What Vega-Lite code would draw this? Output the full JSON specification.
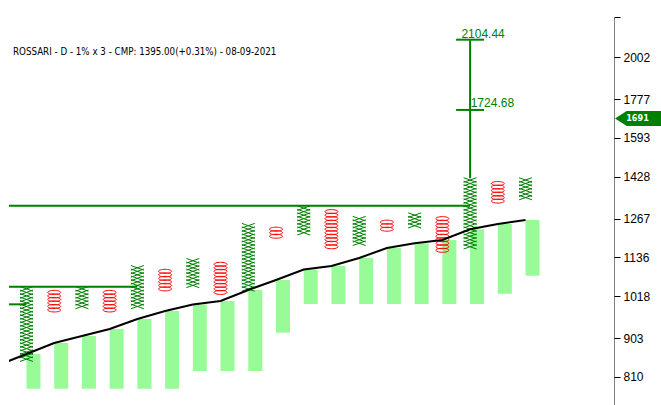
{
  "$schema": "https://vega.github.io/schema/vega-lite/v6.json",
  "width": 605,
  "height": 388,
  "autosize": {"type": "none"},
  "padding": {"left": 9, "top": 17, "right": 47, "bottom": 0},
  "background": "white",
  "view": {"stroke": null},
  "title": {
    "text": "ROSSARI - D - 1% x 3 - CMP: 1395.00(+0.31%) - 08-09-2021",
    "anchor": "start",
    "frame": "group",
    "orient": "top",
    "offset": -53.5,
    "baseline": "alphabetic",
    "dx": 4,
    "font": "'DejaVu Sans Condensed', 'Liberation Sans', sans-serif",
    "fontSize": 9.7,
    "fontWeight": "normal",
    "color": "#000000"
  },
  "datasets": {
    "bands": [
      {"col": 0, "price": 837.3, "low": null},
      {"col": 1, "price": 863.8, "low": 782.9},
      {"col": 2, "price": 891.2, "low": 782.9},
      {"col": 3, "price": 909.0, "low": 782.9},
      {"col": 4, "price": 927.2, "low": 782.9},
      {"col": 5, "price": 953.9, "low": 782.9},
      {"col": 6, "price": 975.7, "low": 782.9},
      {"col": 7, "price": 993.9, "low": 823.2},
      {"col": 8, "price": 1003.7, "low": 823.2},
      {"col": 9, "price": 1035.6, "low": 823.2},
      {"col": 10, "price": 1065.3, "low": 917.6},
      {"col": 11, "price": 1097.4, "low": 995.3},
      {"col": 12, "price": 1108.4, "low": 995.3},
      {"col": 13, "price": 1133.8, "low": 995.3},
      {"col": 14, "price": 1166.4, "low": 995.3},
      {"col": 15, "price": 1182.0, "low": 995.3},
      {"col": 16, "price": 1193.1, "low": 995.3},
      {"col": 17, "price": 1229.9, "low": 995.3},
      {"col": 18, "price": 1248.5, "low": 1024.7},
      {"col": 19, "price": 1262.7, "low": 1078.4}
    ],
    "boxes": [
      {"col":1,"price":851.32,"kind":"X"},{"col":1,"price":859.83,"kind":"X"},{"col":1,"price":868.43,"kind":"X"},{"col":1,"price":877.11,"kind":"X"},{"col":1,"price":885.88,"kind":"X"},{"col":1,"price":894.74,"kind":"X"},{"col":1,"price":903.69,"kind":"X"},{"col":1,"price":912.73,"kind":"X"},{"col":1,"price":921.86,"kind":"X"},{"col":1,"price":931.07,"kind":"X"},{"col":1,"price":940.38,"kind":"X"},{"col":1,"price":949.79,"kind":"X"},{"col":1,"price":959.29,"kind":"X"},{"col":1,"price":968.88,"kind":"X"},{"col":1,"price":978.57,"kind":"X"},{"col":1,"price":988.35,"kind":"X"},{"col":1,"price":998.24,"kind":"X"},{"col":1,"price":1008.22,"kind":"X"},{"col":1,"price":1018.30,"kind":"X"},{"col":1,"price":1028.49,"kind":"X"},{"col":1,"price":1038.77,"kind":"X"},
      {"col":2,"price":978.57,"kind":"O"},{"col":2,"price":988.35,"kind":"O"},{"col":2,"price":998.24,"kind":"O"},{"col":2,"price":1008.22,"kind":"O"},{"col":2,"price":1018.30,"kind":"O"},{"col":2,"price":1028.49,"kind":"O"},
      {"col":3,"price":988.35,"kind":"X"},{"col":3,"price":998.24,"kind":"X"},{"col":3,"price":1008.22,"kind":"X"},{"col":3,"price":1018.30,"kind":"X"},{"col":3,"price":1028.49,"kind":"X"},{"col":3,"price":1038.77,"kind":"X"},
      {"col":4,"price":978.57,"kind":"O"},{"col":4,"price":988.35,"kind":"O"},{"col":4,"price":998.24,"kind":"O"},{"col":4,"price":1008.22,"kind":"O"},{"col":4,"price":1018.30,"kind":"O"},{"col":4,"price":1028.49,"kind":"O"},
      {"col":5,"price":988.35,"kind":"X"},{"col":5,"price":998.24,"kind":"X"},{"col":5,"price":1008.22,"kind":"X"},{"col":5,"price":1018.30,"kind":"X"},{"col":5,"price":1028.49,"kind":"X"},{"col":5,"price":1038.77,"kind":"X"},{"col":5,"price":1049.16,"kind":"X"},{"col":5,"price":1059.65,"kind":"X"},{"col":5,"price":1070.25,"kind":"X"},{"col":5,"price":1080.95,"kind":"X"},{"col":5,"price":1091.76,"kind":"X"},{"col":5,"price":1102.67,"kind":"X"},
      {"col":6,"price":1038.77,"kind":"O"},{"col":6,"price":1049.16,"kind":"O"},{"col":6,"price":1059.65,"kind":"O"},{"col":6,"price":1070.25,"kind":"O"},{"col":6,"price":1080.95,"kind":"O"},{"col":6,"price":1091.76,"kind":"O"},
      {"col":7,"price":1049.16,"kind":"X"},{"col":7,"price":1059.65,"kind":"X"},{"col":7,"price":1070.25,"kind":"X"},{"col":7,"price":1080.95,"kind":"X"},{"col":7,"price":1091.76,"kind":"X"},{"col":7,"price":1102.67,"kind":"X"},{"col":7,"price":1113.70,"kind":"X"},{"col":7,"price":1124.84,"kind":"X"},
      {"col":8,"price":1028.49,"kind":"O"},{"col":8,"price":1038.77,"kind":"O"},{"col":8,"price":1049.16,"kind":"O"},{"col":8,"price":1059.65,"kind":"O"},{"col":8,"price":1070.25,"kind":"O"},{"col":8,"price":1080.95,"kind":"O"},{"col":8,"price":1091.76,"kind":"O"},{"col":8,"price":1102.67,"kind":"O"},{"col":8,"price":1113.70,"kind":"O"},
      {"col":9,"price":1038.77,"kind":"X"},{"col":9,"price":1049.16,"kind":"X"},{"col":9,"price":1059.65,"kind":"X"},{"col":9,"price":1070.25,"kind":"X"},{"col":9,"price":1080.95,"kind":"X"},{"col":9,"price":1091.76,"kind":"X"},{"col":9,"price":1102.67,"kind":"X"},{"col":9,"price":1113.70,"kind":"X"},{"col":9,"price":1124.84,"kind":"X"},{"col":9,"price":1136.09,"kind":"X"},{"col":9,"price":1147.45,"kind":"X"},{"col":9,"price":1158.92,"kind":"X"},{"col":9,"price":1170.51,"kind":"X"},{"col":9,"price":1182.22,"kind":"X"},{"col":9,"price":1194.04,"kind":"X"},{"col":9,"price":1205.98,"kind":"X"},{"col":9,"price":1218.04,"kind":"X"},{"col":9,"price":1230.22,"kind":"X"},{"col":9,"price":1242.52,"kind":"X"},
      {"col":10,"price":1205.98,"kind":"O"},{"col":10,"price":1218.04,"kind":"O"},{"col":10,"price":1230.22,"kind":"O"},
      {"col":11,"price":1218.04,"kind":"X"},{"col":11,"price":1230.22,"kind":"X"},{"col":11,"price":1242.52,"kind":"X"},{"col":11,"price":1254.95,"kind":"X"},{"col":11,"price":1267.50,"kind":"X"},{"col":11,"price":1280.17,"kind":"X"},{"col":11,"price":1292.97,"kind":"X"},{"col":11,"price":1305.90,"kind":"X"},
      {"col":12,"price":1170.51,"kind":"O"},{"col":12,"price":1182.22,"kind":"O"},{"col":12,"price":1194.04,"kind":"O"},{"col":12,"price":1205.98,"kind":"O"},{"col":12,"price":1218.04,"kind":"O"},{"col":12,"price":1230.22,"kind":"O"},{"col":12,"price":1242.52,"kind":"O"},{"col":12,"price":1254.95,"kind":"O"},{"col":12,"price":1267.50,"kind":"O"},{"col":12,"price":1280.17,"kind":"O"},{"col":12,"price":1292.97,"kind":"O"},
      {"col":13,"price":1182.22,"kind":"X"},{"col":13,"price":1194.04,"kind":"X"},{"col":13,"price":1205.98,"kind":"X"},{"col":13,"price":1218.04,"kind":"X"},{"col":13,"price":1230.22,"kind":"X"},{"col":13,"price":1242.52,"kind":"X"},{"col":13,"price":1254.95,"kind":"X"},{"col":13,"price":1267.50,"kind":"X"},
      {"col":14,"price":1230.22,"kind":"O"},{"col":14,"price":1242.52,"kind":"O"},{"col":14,"price":1254.95,"kind":"O"},
      {"col":15,"price":1242.52,"kind":"X"},{"col":15,"price":1254.95,"kind":"X"},{"col":15,"price":1267.50,"kind":"X"},{"col":15,"price":1280.17,"kind":"X"},
      {"col":16,"price":1158.92,"kind":"O"},{"col":16,"price":1170.51,"kind":"O"},{"col":16,"price":1182.22,"kind":"O"},{"col":16,"price":1194.04,"kind":"O"},{"col":16,"price":1205.98,"kind":"O"},{"col":16,"price":1218.04,"kind":"O"},{"col":16,"price":1230.22,"kind":"O"},{"col":16,"price":1242.52,"kind":"O"},{"col":16,"price":1254.95,"kind":"O"},{"col":16,"price":1267.50,"kind":"O"},
      {"col":17,"price":1170.51,"kind":"X"},{"col":17,"price":1182.22,"kind":"X"},{"col":17,"price":1194.04,"kind":"X"},{"col":17,"price":1205.98,"kind":"X"},{"col":17,"price":1218.04,"kind":"X"},{"col":17,"price":1230.22,"kind":"X"},{"col":17,"price":1242.52,"kind":"X"},{"col":17,"price":1254.95,"kind":"X"},{"col":17,"price":1267.50,"kind":"X"},{"col":17,"price":1280.17,"kind":"X"},{"col":17,"price":1292.97,"kind":"X"},{"col":17,"price":1305.90,"kind":"X"},{"col":17,"price":1318.96,"kind":"X"},{"col":17,"price":1332.15,"kind":"X"},{"col":17,"price":1345.47,"kind":"X"},{"col":17,"price":1358.93,"kind":"X"},{"col":17,"price":1372.52,"kind":"X"},{"col":17,"price":1386.24,"kind":"X"},{"col":17,"price":1400.11,"kind":"X"},{"col":17,"price":1414.11,"kind":"X"},
      {"col":18,"price":1332.15,"kind":"O"},{"col":18,"price":1345.47,"kind":"O"},{"col":18,"price":1358.93,"kind":"O"},{"col":18,"price":1372.52,"kind":"O"},{"col":18,"price":1386.24,"kind":"O"},{"col":18,"price":1400.11,"kind":"O"},
      {"col":19,"price":1345.47,"kind":"X"},{"col":19,"price":1358.93,"kind":"X"},{"col":19,"price":1372.52,"kind":"X"},{"col":19,"price":1386.24,"kind":"X"},{"col":19,"price":1400.11,"kind":"X"},{"col":19,"price":1414.11,"kind":"X"}
    ],
    "resist": [
      {"col": 0, "col2": 17, "price": 1315.0},
      {"col": 0, "col2": 5, "price": 1045.0},
      {"col": 0, "col2": 1, "price": 994.3}
    ],
    "targets": [
      {"col": 17, "price": 2104.44, "label": "2104.44", "base": 1421.2},
      {"col": 17, "price": 1724.68, "label": "1724.68", "base": 1421.2}
    ],
    "last": [{"price": 1691, "label": "1691"}]
  },
  "encoding": {
    "x": {"field": "col", "type": "quantitative", "scale": {"domain": [0.55, 22.01], "nice": false, "zero": false}, "axis": null},
    "y": {
      "field": "price", "type": "quantitative",
      "scale": {"type": "log", "domain": [747.6, 2244.1], "nice": false, "zero": false},
      "axis": {
        "orient": "right", "title": null,
        "values": [810, 903, 1018, 1136, 1267, 1428, 1593, 1777, 2002, 2244.1],
        "format": "d",
        "labelExpr": "datum.value > 2200 ? '' : datum.label",
        "grid": false,
        "domainColor": "#000000", "domainDash": [1, 1], "domainWidth": 1,
        "tickColor": "#000000", "tickSize": 6, "tickWidth": 1,
        "labelFont": "Liberation Sans", "labelFontSize": 12, "labelColor": "#000000",
        "labelPadding": 3, "labelOverlap": false, "labelBound": false, "labelFlush": false
      }
    }
  },
  "layer": [
    {
      "data": {"name": "bands"},
      "transform": [{"filter": "datum.low != null"}],
      "mark": {"type": "bar", "width": 14, "xOffset": 7, "color": "#98FB98"},
      "encoding": {"y2": {"field": "low"}}
    },
    {
      "data": {"name": "boxes"},
      "mark": {"type": "point", "size": 4, "filled": false, "opacity": 1, "strokeWidth": 1},
      "encoding": {
        "shape": {"field": "kind", "type": "nominal", "legend": null,
          "scale": {"domain": ["X", "O"], "range": ["M-6.5,-2.3L6.5,2.3M-6.5,2.3L6.5,-2.3", "M-6.5,0A6.5,2 0 1,0 6.5,0A6.5,2 0 1,0 -6.5,0Z"]}},
        "color": {"field": "kind", "type": "nominal", "legend": null,
          "scale": {"domain": ["X", "O"], "range": ["#008000", "#FF0000"]}}
      }
    },
    {
      "data": {"name": "bands"},
      "mark": {"type": "line", "color": "#000000", "strokeWidth": 2, "clip": true}
    },
    {
      "data": {"name": "resist"},
      "mark": {"type": "rule", "color": "#008000", "strokeWidth": 2, "clip": true},
      "encoding": {"x2": {"field": "col2"}}
    },
    {
      "data": {"name": "targets"},
      "transform": [{"filter": "datum.price > 2000"}],
      "mark": {"type": "rule", "color": "#008000", "strokeWidth": 2},
      "encoding": {"y2": {"field": "base"}}
    },
    {
      "data": {"name": "targets"},
      "mark": {"type": "tick", "orient": "horizontal", "size": 28, "thickness": 2, "color": "#008000", "opacity": 1}
    },
    {
      "data": {"name": "targets"},
      "transform": [{"filter": "datum.price > 2000"}],
      "mark": {"type": "text", "align": "left", "baseline": "alphabetic", "dx": -8.7, "dy": -2, "font": "Liberation Sans", "fontSize": 12, "color": "#008000"},
      "encoding": {"text": {"field": "label"}}
    },
    {
      "data": {"name": "targets"},
      "transform": [{"filter": "datum.price < 2000"}],
      "mark": {"type": "text", "align": "left", "baseline": "alphabetic", "dx": 0.6, "dy": -2.6, "font": "Liberation Sans", "fontSize": 12, "color": "#008000"},
      "encoding": {"text": {"field": "label"}}
    },
    {
      "data": {"name": "last"},
      "mark": {"type": "point", "shape": "M1,1.5L12.7,-6L48,-6L48,9L12.7,9Z", "size": 4, "filled": true, "color": "#008000", "opacity": 1, "strokeWidth": 0, "clip": false},
      "encoding": {"x": {"value": "width"}}
    },
    {
      "data": {"name": "last"},
      "mark": {"type": "text", "align": "center", "baseline": "middle", "dx": 23.5, "dy": 1.5, "font": "'DejaVu Sans Condensed', sans-serif", "fontSize": 9, "fontWeight": "bold", "color": "#FFFFFF"},
      "encoding": {"x": {"value": "width"}, "text": {"field": "label"}}
    }
  ]
}
